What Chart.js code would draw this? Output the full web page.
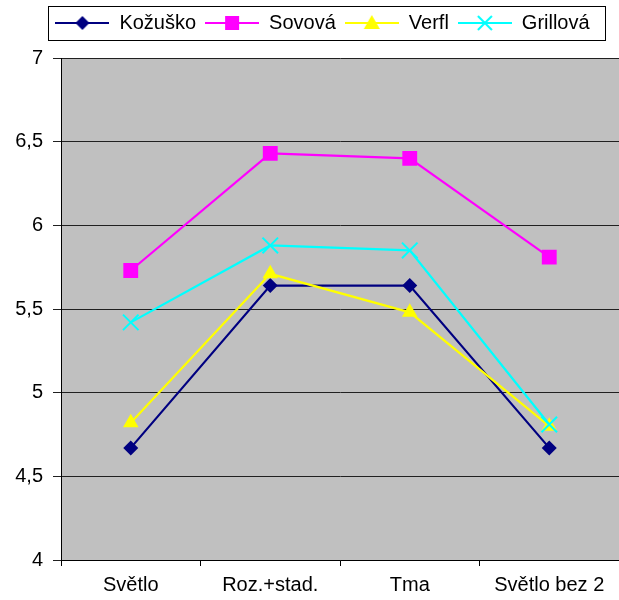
<!DOCTYPE html>
<html>
<head>
<meta charset="utf-8">
<script src="https://cdn.jsdelivr.net/npm/chart.js@4.4.1/dist/chart.umd.min.js"></script>
<style>
  html, body { margin: 0; padding: 0; background: #fff; }
  #wrap { width: 619px; height: 600px; }
</style>
</head>
<body>
<div id="wrap"><canvas id="chart" width="619" height="600"></canvas></div>
<script>
// data
const categories = ['Světlo', 'Roz.+stad.', 'Tma', 'Světlo bez 2'];
const seriesNames = ['Kožuško', 'Sovová', 'Verfl', 'Grillová'];
const kozusko  = [4.67, 5.64, 5.64, 4.67];
const sovova   = [5.73, 6.43, 6.40, 5.81];
const verfl    = [4.82, 5.71, 5.48, 4.80];
const grillova = [5.42, 5.88, 5.85, 4.81];
const yTicks   = [4, 4.5, 5, 5.5, 6, 6.5, 7];

const colors  = ['#000080', '#FF00FF', '#FFFF00', '#00FFFF'];
const markers = ['rectRot', 'rect', 'triangle', 'crossRot'];
const radii   = [7.5, 10.5, 9, 11];

Chart.defaults.font.family = "'Liberation Sans', Arial, sans-serif";
Chart.defaults.font.size = 20;
Chart.defaults.color = '#000';

// legend sample: line with marker in the middle
function legendIcon(i) {
    const c = document.createElement('canvas');
    c.width = 54; c.height = 20;
    const g = c.getContext('2d');
    g.strokeStyle = colors[i];
    g.fillStyle = colors[i];
    g.lineWidth = 2;
    g.beginPath(); g.moveTo(0, 10); g.lineTo(54, 10); g.stroke();
    const cx = 27, cy = 10;
    g.beginPath();
    if (markers[i] === 'rectRot') {
        g.moveTo(cx, cy - 7); g.lineTo(cx + 7, cy); g.lineTo(cx, cy + 7); g.lineTo(cx - 7, cy);
        g.closePath(); g.fill();
    } else if (markers[i] === 'rect') {
        g.rect(cx - 7, cy - 7, 14, 14); g.fill();
    } else if (markers[i] === 'triangle') {
        g.moveTo(cx, cy - 8); g.lineTo(cx + 8, cy + 6); g.lineTo(cx - 8, cy + 6);
        g.closePath(); g.fill();
    } else {
        g.moveTo(cx - 7, cy - 7); g.lineTo(cx + 7, cy + 7);
        g.moveTo(cx + 7, cy - 7); g.lineTo(cx - 7, cy + 7);
        g.stroke();
    }
    return c;
}
const icons = seriesNames.map((n, i) => legendIcon(i));

const LEGEND_SHIFT = 13;   // legend sits a bit right of centre
const LEGEND_EXTRA = 15;   // gap between legend and plot

const plotBackground = {
    id: 'plotBackground',
    beforeLayout(chart) {
        const lg = chart.legend;
        if (lg && !lg._patched) {
            const fit = lg.fit;
            lg.fit = function () { fit.call(this); this.height += LEGEND_EXTRA; };
            lg._patched = true;
        }
    },
    afterUpdate(chart) {
        const lg = chart.legend;
        lg.left += LEGEND_SHIFT;
        lg.right += LEGEND_SHIFT;
        lg.legendHitBoxes.forEach(b => { b.left += LEGEND_SHIFT; });
    },
    beforeDraw(chart) {
        const a = chart.chartArea, ctx = chart.ctx;
        ctx.save();
        ctx.fillStyle = '#fff';
        ctx.fillRect(0, 0, chart.width, chart.height);
        ctx.fillStyle = '#C0C0C0';
        ctx.fillRect(a.left, a.top, a.right - a.left, a.bottom - a.top);
        ctx.restore();
    }
};

const legendFrame = {
    id: 'legendFrame',
    afterDraw(chart) {
        const hb = chart.legend.legendHitBoxes;
        if (!hb || !hb.length) return;
        const left = Math.min(...hb.map(b => b.left)) - 7;
        const right = Math.max(...hb.map(b => b.left + b.width)) + 16;
        const top = hb[0].top - 7;
        const bottom = hb[0].top + hb[0].height + 7;
        const ctx = chart.ctx;
        ctx.save();
        ctx.strokeStyle = '#000';
        ctx.lineWidth = 1;
        ctx.strokeRect(Math.round(left) + 0.5, Math.round(top) + 0.5, Math.round(right - left), Math.round(bottom - top));
        ctx.restore();
    }
};

const allSeries = [kozusko, sovova, verfl, grillova];

new Chart(document.getElementById('chart'), {
    type: 'line',
    data: {
        labels: categories,
        datasets: allSeries.map((vals, i) => ({
            label: seriesNames[i],
            data: vals,
            borderColor: colors[i],
            backgroundColor: colors[i],
            borderWidth: 2.2,
            pointStyle: markers[i],
            pointRadius: radii[i],
            pointHoverRadius: radii[i],
            pointBorderWidth: markers[i] === 'crossRot' ? 2 : 0,
            pointBorderColor: colors[i],
            pointBackgroundColor: colors[i],
            tension: 0,
            order: 4 - i
        }))
    },
    options: {
        responsive: false,
        animation: false,
        layout: { autoPadding: false, padding: { left: 0, right: 0, top: 4, bottom: 0 } },
        plugins: {
            tooltip: { enabled: false },
            legend: {
                position: 'top',
                labels: {
                    usePointStyle: true,
                    pointStyleWidth: 54,
                    padding: 9,
                    generateLabels: chart => seriesNames.map((n, i) => ({
                        text: n,
                        pointStyle: icons[i],
                        datasetIndex: i,
                        fillStyle: colors[i],
                        strokeStyle: colors[i],
                        lineWidth: 0,
                        hidden: false
                    }))
                }
            }
        },
        scales: {
            x: {
                offset: true,
                afterFit: s => { s.height = 40; s.paddingLeft = 0; s.paddingRight = 0; },
                grid: {
                    offset: true,
                    drawOnChartArea: false,
                    drawTicks: true,
                    tickLength: 6,
                    color: '#000'
                },
                border: { color: '#000', width: 1 },
                ticks: { padding: 7, maxRotation: 0 }
            },
            y: {
                min: 4,
                max: 7,
                afterFit: s => { s.width = 61; },
                afterBuildTicks: s => { s.ticks = yTicks.map(v => ({ value: v })); },
                grid: { color: '#202020', tickLength: 8 },
                border: { color: '#000', width: 1 },
                ticks: {
                    padding: 10,
                    callback: v => String(v).replace('.', ',')
                }
            }
        }
    },
    plugins: [plotBackground, legendFrame]
});
</script>
</body>
</html>
